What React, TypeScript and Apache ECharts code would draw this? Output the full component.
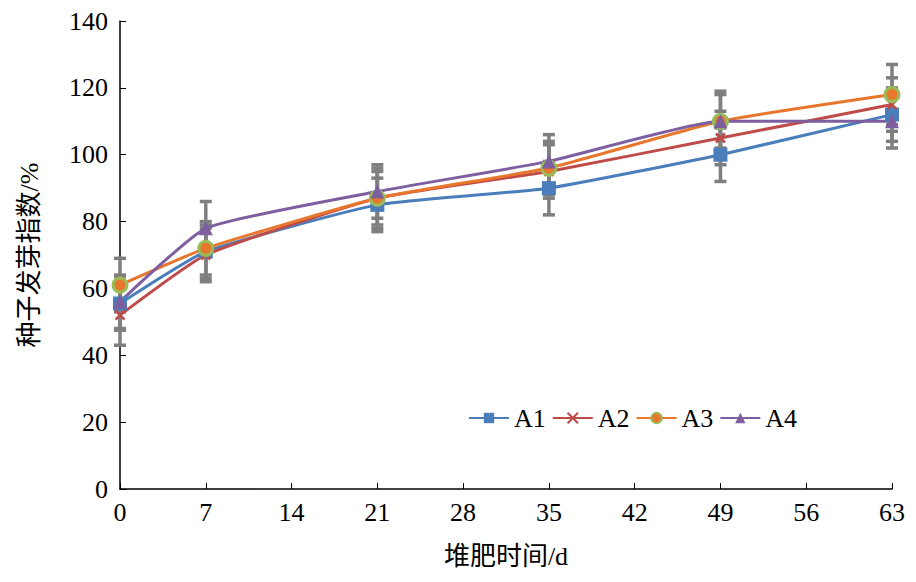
import { useEffect, useRef } from "react"
import * as echarts from "echarts"

const days = [0, 7, 21, 35, 49, 63]
const a1 = [55.5, 71, 85, 90, 100, 112]
const a2 = [52, 70, 87, 95, 105, 115]
const a3 = [61, 72, 87, 96, 110, 118]
const a4 = [56, 78, 89, 98, 110, 110]
const a1Err = [8, 8, 8, 8, 8, 8]
const a2Err = [9, 8, 9, 8, 8, 8]
const a3Err = [8, 8, 8, 8, 8, 9]
const a4Err = [8, 8, 8, 8, 9, 8]
const names = ["A1", "A2", "A3", "A4"]
const colors = ["#4a7ebb", "#be4b48", "#e8762c", "#7d5fa0"]

const font = "'Liberation Serif', 'Times New Roman', 'Noto Sans CJK SC', serif"

export default function App() {
  const ref = useRef<HTMLDivElement | null>(null)

  useEffect(() => {
    if (!ref.current) return
    const chart = echarts.init(ref.current, null, { renderer: "svg" })
    const vals = [a1, a2, a3, a4]
    const errs = [a1Err, a2Err, a3Err, a4Err]
    const symbols = ["rect", "path://M0,0L10,10M10,0L0,10", "circle", "triangle"]

    const errData: number[][] = []
    vals.forEach((v, s) => v.forEach((y, i) => errData.push([days[i], y - errs[s][i], y + errs[s][i]])))

    chart.setOption({
      animation: false,
      textStyle: { fontFamily: font },
      grid: { left: 110, right: 10, top: 9, bottom: 85 },
      legend: {
        left: 455,
        top: 392,
        itemWidth: 40,
        itemHeight: 13,
        itemGap: 6,
        textStyle: { fontFamily: font, fontSize: 26, color: "#000" },
        data: names,
      },
      xAxis: {
        type: "value",
        min: 0,
        max: 63,
        interval: 7,
        name: "堆肥时间/d",
        nameLocation: "middle",
        nameGap: 54,
        nameTextStyle: { fontFamily: font, fontSize: 26, color: "#000" },
        axisLine: { lineStyle: { color: "#000", width: 1.5 } },
        axisTick: { inside: true, length: 6, lineStyle: { color: "#000" } },
        axisLabel: { fontFamily: font, fontSize: 26, color: "#000", margin: 10 },
        splitLine: { show: false },
      },
      yAxis: {
        type: "value",
        min: 0,
        max: 140,
        interval: 20,
        name: "种子发芽指数/%",
        nameLocation: "middle",
        nameGap: 78,
        nameRotate: 90,
        nameTextStyle: { fontFamily: font, fontSize: 26, color: "#000" },
        axisLine: { show: true, lineStyle: { color: "#000", width: 1.5 } },
        axisTick: { show: true, inside: true, length: 6, lineStyle: { color: "#000" } },
        axisLabel: { fontFamily: font, fontSize: 26, color: "#000", margin: 12 },
        splitLine: { show: false },
      },
      series: [
        {
          type: "custom",
          silent: true,
          z: 1,
          data: errData,
          renderItem: (_p: any, api: any) => {
            const x = api.value(0)
            const lo = api.coord([x, api.value(1)])
            const hi = api.coord([x, api.value(2)])
            const st = { stroke: "#7f7f7f", lineWidth: 3.5 }
            return {
              type: "group",
              children: [
                { type: "line", shape: { x1: lo[0], y1: lo[1], x2: hi[0], y2: hi[1] }, style: st },
                { type: "line", shape: { x1: lo[0] - 6, y1: lo[1], x2: lo[0] + 6, y2: lo[1] }, style: st },
                { type: "line", shape: { x1: hi[0] - 6, y1: hi[1], x2: hi[0] + 6, y2: hi[1] }, style: st },
              ],
            }
          },
        },
        ...vals.map((v, s) => ({
          name: names[s],
          type: "line",
          z: 3,
          smooth: 0.15,
          data: v.map((y, i) => [days[i], y]),
          symbol: symbols[s],
          symbolSize: s === 1 ? 9 : s === 2 ? 14 : 14,
          lineStyle: { color: colors[s], width: 3 },
          itemStyle:
            s === 1
              ? { color: colors[s], borderColor: colors[s], borderWidth: 2.5 }
              : s === 2
              ? { color: colors[s], borderColor: "#9bbb59", borderWidth: 3 }
              : { color: colors[s], borderWidth: 0 },
        })),
      ],
    })
    return () => chart.dispose()
  }, [])

  return <div ref={ref} style={{ width: 900, height: 566 }} />
}
